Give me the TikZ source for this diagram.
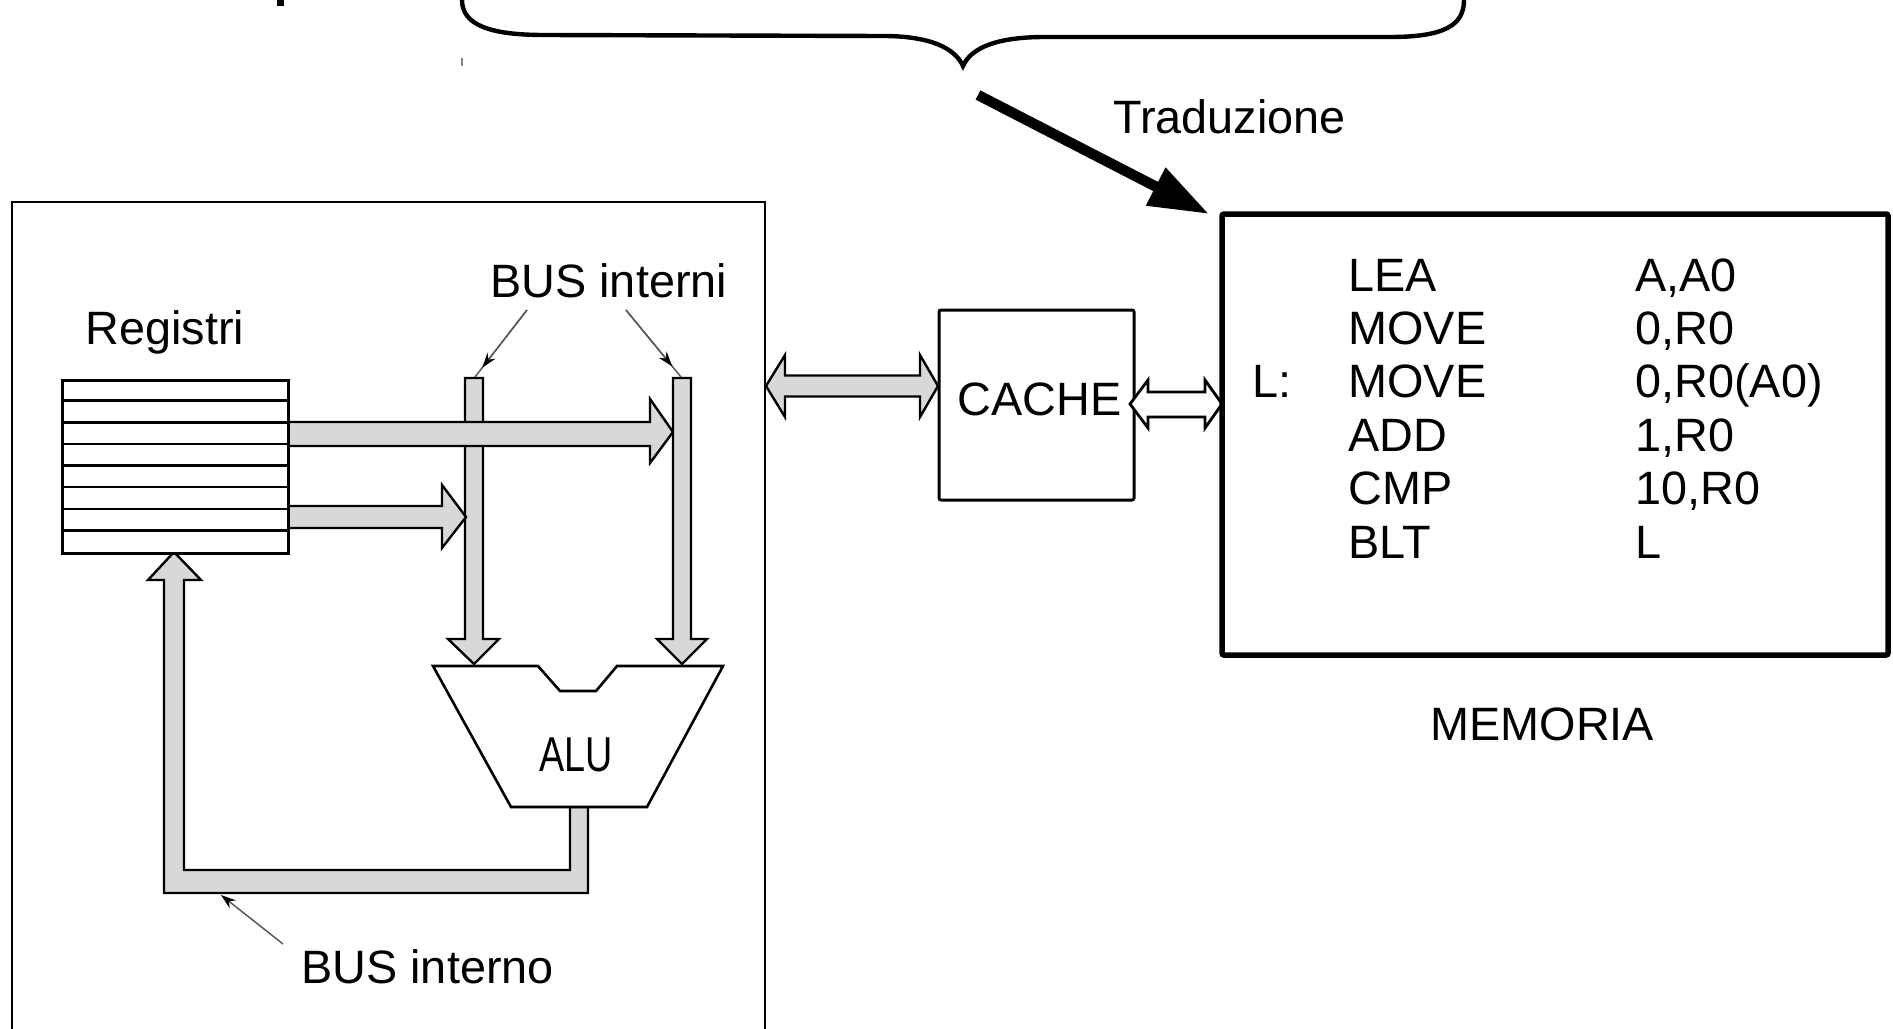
\documentclass[tikz,border=0pt]{standalone}
\usepackage{fontspec}
\setmainfont{Liberation Sans}
\usetikzlibrary{arrows.meta,calc}
\definecolor{busgray}{RGB}{216,216,216}
\definecolor{leadgray}{RGB}{90,90,90}
\tikzset{
  lbl/.style={inner sep=0pt, anchor=base west, font=\fontsize{23.4pt}{27pt}\selectfont},
  bus/.style={fill=busgray, draw=black, line width=1.2pt, line join=miter},
  wbus/.style={fill=white, draw=black, line width=1.4pt, line join=miter},
  box/.style={draw=black, line width=1.3pt},
  leader/.style={draw=leadgray, line width=0.75pt},
  leadtip/.style={-{Stealth[length=7.5pt,width=5pt,color=black]}, draw=leadgray, line width=0.75pt}
}
\begin{document}
\begin{tikzpicture}[x=0.5pt,y=-0.5pt]
\useasboundingbox (0,0) rectangle (1893,1028);
\clip (0,0) rectangle (1893,1028);

% fragments of cut-off text at the top
\fill[black] (277,0) rectangle (284,6);
\draw[gray, line width=0.8pt] (462,58) -- (462,66);

% brace
\draw[line width=2.2pt, line cap=round]
  (462,0) .. controls (462,25) and (490,35) .. (544,35) -- (883,36)
  .. controls (930,36) and (955,48) .. (963,66)
  .. controls (971,48) and (996,37) .. (1045,37) -- (1390,37)
  .. controls (1445,37) and (1464,25) .. (1464,0);

% Traduzione arrow
\coordinate (trStart) at (978,95);
\coordinate (trEnd) at (1209,214);
\draw[line width=5.2pt, -{Triangle[length=30pt,width=20pt]}] (trStart) -- (trEnd);
\node[lbl] (trad) at (1113,133) {Traduzione};

% CPU box
\draw[box, line width=1.25pt] (12,202) rectangle (765,1040);

% vertical internal buses
\draw[bus] (465,378) -- (483,378) -- (483,639) -- (499,639) -- (474,664) -- (448,639) -- (465,639) -- cycle;
\draw[bus] (673,378) -- (691,378) -- (691,639) -- (707,639) -- (682,664) -- (657,639) -- (673,639) -- cycle;

% horizontal arrows from the registers
\draw[bus] (287,422) -- (650,422) -- (650,399) -- (673,432) -- (650,463) -- (650,446) -- (287,446) -- cycle;
\draw[bus] (287,506) -- (442,506) -- (442,485) -- (466,517) -- (442,548) -- (442,528) -- (287,528) -- cycle;

% feedback bus ALU -> registers
\draw[bus] (570,807) -- (570,870) -- (184,870) -- (184,580) -- (201,580) -- (174,552) -- (148,580) -- (164,580) -- (164,893) -- (588,893) -- (588,807) -- cycle;

% ALU
\draw[fill=white, draw=black, line width=1.3pt, line join=miter]
  (433,666) -- (538,666) -- (560,691) -- (596,691) -- (617,666) -- (723,666) -- (647,807) -- (511,807) -- cycle;
\node[inner sep=0pt, anchor=base, font=\fontsize{24.5pt}{28pt}\selectfont] (alu) at (576,771) {\scalebox{0.77}[1]{ALU}};

% register file
\node[draw=black, line width=1.25pt, fill=white, minimum width=113pt, minimum height=86.5pt, inner sep=0pt, anchor=north west] (reg) at (61,379) {};
\foreach \i in {1,...,7} {
  \draw[line width=1.25pt] (61,379+21.625*\i) -- (287,379+21.625*\i);
}
\node[lbl] (registri) at (85,344) {Registri};

% labels and leaders
\node[lbl] (busint) at (490,297) {BUS interni};
\coordinate (l1s) at (527,310); \coordinate (l1e) at (475,377);
\coordinate (l2s) at (626,310); \coordinate (l2e) at (681,377);
\draw[leader] (l1s) -- (l1e);
\draw[leadtip] (l1s) -- ($(l1s)!0.86!(l1e)$);
\draw[leader] (l2s) -- (l2e);
\draw[leadtip] (l2s) -- ($(l2s)!0.84!(l2e)$);

\node[lbl] (businterno) at (301,983) {BUS interno};
\coordinate (l3s) at (283,944); \coordinate (l3e) at (221,895);
\draw[leadtip] (l3s) -- (l3e);

% CACHE
\draw[box, line width=1.5pt, rounded corners=1pt] (939,310) rectangle (1134,500);
\node[lbl] (cache) at (957,415) {CACHE};

% CPU <-> CACHE
\draw[bus] (766,386) -- (785,355) -- (785,375.5) -- (920,375.5) -- (920,355) -- (938,386) -- (920,417) -- (920,396.5) -- (785,396.5) -- (785,417) -- cycle;

% CACHE <-> MEMORIA
\draw[wbus] (1130,404) -- (1148,380) -- (1148,392) -- (1205,392) -- (1205,380) -- (1222,404) -- (1205,428) -- (1205,417) -- (1148,417) -- (1148,428) -- cycle;

% MEMORIA
\draw[box, line width=2.75pt, rounded corners=1pt] (1222,214) rectangle (1888,655);
\node[lbl] (lab) at (1252,397.5) {L:};
\node[lbl] (i1) at (1348,291) {LEA};
\node[lbl] (i2) at (1348,344.5) {MOVE};
\node[lbl] (i3) at (1348,397.5) {MOVE};
\node[lbl] (i4) at (1348,451) {ADD};
\node[lbl] (i5) at (1348,504.5) {CMP};
\node[lbl] (i6) at (1348,558) {BLT};
\node[lbl] (o1) at (1635,291) {A,A0};
\node[lbl] (o2) at (1635,344.5) {0,R0};
\node[lbl] (o3) at (1635,397.5) {0,R0(A0)};
\node[lbl] (o4) at (1635,451) {1,R0};
\node[lbl] (o5) at (1635,504.5) {10,R0};
\node[lbl] (o6) at (1635,558) {L};
\node[lbl] (memoria) at (1430,740) {MEMORIA};
\end{tikzpicture}
\end{document}
